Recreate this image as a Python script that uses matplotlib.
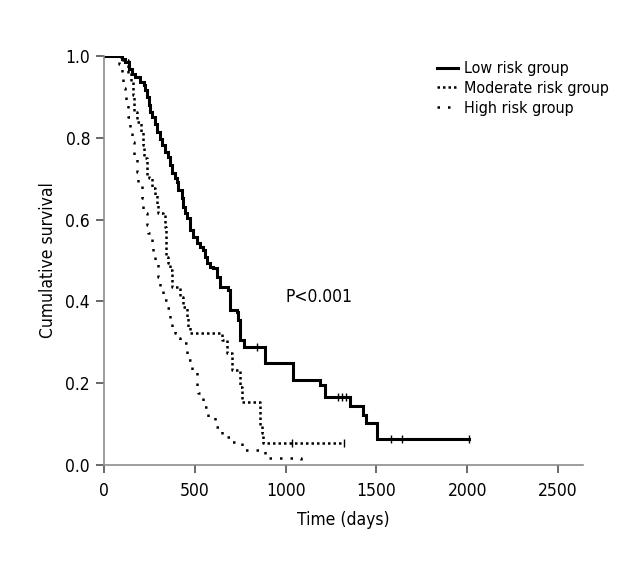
import matplotlib
matplotlib.use("Agg")
import matplotlib.pyplot as plt
from matplotlib import font_manager

names = {f.name for f in font_manager.fontManager.ttflist}
FAM = ['Liberation Sans Narrow', 'DejaVu Sans'] if 'Liberation Sans Narrow' in names else ['DejaVu Sans']
plt.rcParams['font.family'] = FAM
plt.rcParams['font.stretch'] = 'condensed'

# ---- data (time in days, cumulative survival after each event) ----
low_time = [0, 99, 117, 136, 154, 172, 200, 219, 227, 237, 246, 255, 264, 283, 292, 310, 319,
            338, 354, 363, 373, 391, 400, 409, 428, 437, 446, 455, 474, 492, 510, 529, 547, 556,
            565, 584, 602, 622, 639, 683, 694, 732, 738, 749, 771, 887, 1041, 1190, 1217, 1355,
            1426, 1443, 1503, 2010]
low_surv = [1.0, 0.993, 0.985, 0.969, 0.957, 0.949, 0.936, 0.928, 0.916, 0.900, 0.880, 0.863,
            0.851, 0.834, 0.814, 0.798, 0.782, 0.765, 0.753, 0.733, 0.714, 0.702, 0.693, 0.672,
            0.653, 0.632, 0.616, 0.604, 0.575, 0.558, 0.543, 0.534, 0.526, 0.509, 0.494, 0.485,
            0.482, 0.460, 0.435, 0.428, 0.379, 0.374, 0.355, 0.306, 0.289, 0.250, 0.208, 0.196,
            0.166, 0.145, 0.122, 0.103, 0.0625, 0.0625]
low_cens_t = [840, 1290, 1310, 1335, 1580, 1640, 2010]
low_cens_s = [0.289, 0.166, 0.166, 0.166, 0.0625, 0.0625, 0.0625]

mod_time = [0, 95, 130, 150, 160, 166, 182, 205, 212, 222, 235, 248, 263, 281, 290, 297, 325,
            336, 340, 344, 352, 363, 373, 419, 435, 455, 463, 474, 650, 677, 705, 749, 760, 860,
            870, 876, 1320]
mod_surv = [1.0, 0.99, 0.958, 0.937, 0.905, 0.863, 0.839, 0.815, 0.782, 0.751, 0.709, 0.702,
            0.677, 0.660, 0.636, 0.616, 0.611, 0.582, 0.545, 0.509, 0.494, 0.477, 0.435, 0.411,
            0.386, 0.362, 0.337, 0.323, 0.306, 0.274, 0.232, 0.190, 0.154, 0.098, 0.078, 0.054,
            0.054]
mod_cens_t = [1034, 1320]
mod_cens_s = [0.054, 0.054]

high_time = [0, 80, 97, 105, 116, 120, 132, 143, 152, 165, 180, 187, 208, 215, 235, 242, 263,
             270, 281, 297, 308, 325, 345, 363, 373, 391, 407, 419, 455, 483, 501, 510, 518, 545,
             573, 611, 648, 703, 760, 887, 1083]
high_surv = [1.0, 0.98, 0.946, 0.922, 0.905, 0.885, 0.851, 0.826, 0.790, 0.751, 0.716, 0.692,
             0.653, 0.616, 0.587, 0.567, 0.538, 0.518, 0.496, 0.460, 0.428, 0.403, 0.384, 0.359,
             0.337, 0.323, 0.311, 0.298, 0.257, 0.232, 0.227, 0.191, 0.176, 0.142, 0.117, 0.093,
             0.068, 0.056, 0.036, 0.017, 0.0]

labels = ['Low risk group', 'Moderate risk group', 'High risk group']
x_ticks = [0, 500, 1000, 1500, 2000, 2500]
y_ticks = [0.0, 0.2, 0.4, 0.6, 0.8, 1.0]

FS = 12.5

# ---- figure ----
fig = plt.figure(figsize=(6.4, 5.7), dpi=100)
ax = fig.add_axes([104 / 640, 1 - 465 / 570, 479 / 640, 409 / 570])

h1, = ax.step(low_time, low_surv, where='post', color='black', lw=2.2, solid_joinstyle='miter')
h2, = ax.step(mod_time, mod_surv, where='post', color='black', lw=1.8, linestyle=(0, (1, 1.2)))
h3, = ax.step(high_time, high_surv, where='post', color='black', lw=1.8, linestyle=(0, (1, 3.2)))
ax.plot(low_cens_t, low_cens_s, linestyle='none', marker='|', color='black', ms=6, mew=1.0)
ax.plot(mod_cens_t, mod_cens_s, linestyle='none', marker='|', color='black', ms=6, mew=1.0)

ax.set_xlim(0, 2637)
ax.set_ylim(0, 1.0)
ax.set_xticks(x_ticks)
ax.set_xticklabels([str(v) for v in x_ticks])
ax.set_yticks(y_ticks)
ax.set_yticklabels([f'{v:.1f}' for v in y_ticks])

for s in ['top', 'right']:
    ax.spines[s].set_visible(False)
for s in ['left', 'bottom']:
    ax.spines[s].set_color('#8c8c8c')
    ax.spines[s].set_linewidth(1.2)
    ax.spines[s].set_clip_on(False)
ax.tick_params(axis='both', direction='out', length=6, width=1.2, color='#505050',
               labelsize=FS, labelcolor='black')
ax.tick_params(axis='x', pad=6)
ax.tick_params(axis='y', pad=4)

ax.set_xlabel('Time (days)', fontsize=FS, labelpad=8)
ax.set_ylabel('Cumulative survival', fontsize=FS, labelpad=6)

ax.text(1000, 0.41, 'P<0.001', fontsize=FS, ha='left', va='center')

fig.legend([h1, h2, h3], labels, loc='upper left', bbox_to_anchor=(426 / 640, 1 - 50 / 570),
           frameon=False, fontsize=11.5, handlelength=1.3, handletextpad=0.35,
           labelspacing=0.3, borderpad=0.2)

fig.savefig('out.png', dpi=100)
